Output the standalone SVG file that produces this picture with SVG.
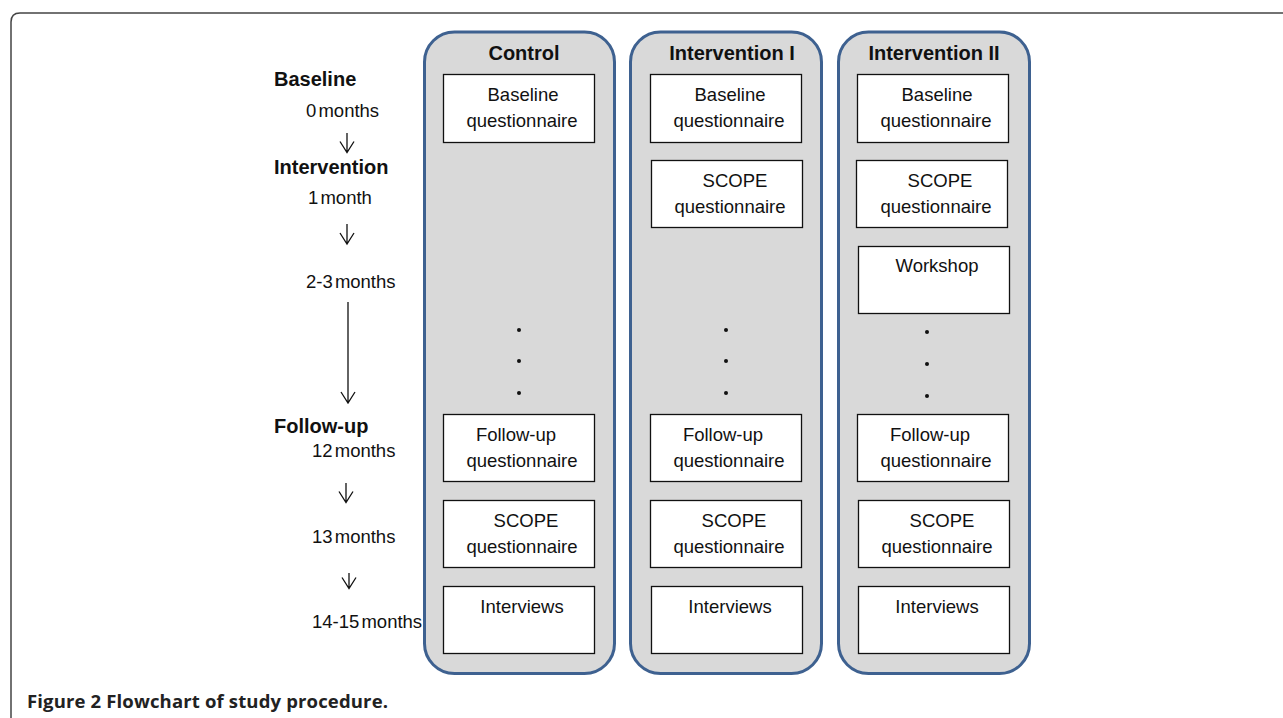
<svg xmlns="http://www.w3.org/2000/svg" width="1283" height="718" viewBox="0 0 1283 718">
<style>
.frame{fill:none;stroke:#444;stroke-width:1.5}
.col{fill:#d9d9d9;stroke:#3e6190;stroke-width:3}
.box{fill:#fff;stroke:#111;stroke-width:1.3}
.t{font-family:"Liberation Sans",Arial,sans-serif;font-size:18.5px;fill:#111;text-anchor:middle}
.h{font-family:"Liberation Sans",Arial,sans-serif;font-size:20px;font-weight:bold;fill:#111;text-anchor:middle}
.lb{font-family:"Liberation Sans",Arial,sans-serif;font-size:20px;font-weight:bold;fill:#111}
.lm{font-family:"Liberation Sans",Arial,sans-serif;font-size:18.5px;fill:#111;word-spacing:-3px}
.arr{fill:none;stroke:#111;stroke-width:1.3}
.dot{fill:#111}
.cap{font-family:"Open Sans","Noto Sans",sans-serif;font-size:18.5px;font-weight:bold;fill:#222}
</style>
<path class="frame" d="M11 718 V22 Q11 13 20 13 H1283"/>

<g id="col-control">
<rect class="col" x="424.5" y="32" width="190" height="641.5" rx="30"/>
<text class="h" x="524" y="60">Control</text>
</g>
<g id="col-int1">
<rect class="col" x="630.5" y="32" width="191" height="641.5" rx="30"/>
<text class="h" x="732" y="60">Intervention I</text>
</g>
<g id="col-int2">
<rect class="col" x="838.5" y="32" width="191" height="641.5" rx="30"/>
<text class="h" x="934" y="60">Intervention II</text>
</g>

<g id="c-baseline"><rect class="box" x="443.5" y="74.5" width="151" height="68"/><text class="t" x="523" y="101">Baseline</text><text class="t" x="522" y="127">questionnaire</text></g>
<g id="c-followup"><rect class="box" x="443.5" y="414.5" width="151" height="67"/><text class="t" x="516" y="441">Follow-up</text><text class="t" x="522" y="467">questionnaire</text></g>
<g id="c-scope"><rect class="box" x="443.5" y="500.5" width="151" height="67"/><text class="t" x="526" y="527">SCOPE</text><text class="t" x="522" y="553">questionnaire</text></g>
<g id="c-interviews"><rect class="box" x="443.5" y="586.5" width="151" height="67"/><text class="t" x="522" y="613">Interviews</text></g>

<g id="i1-baseline"><rect class="box" x="650.5" y="74.5" width="151" height="68"/><text class="t" x="730" y="101">Baseline</text><text class="t" x="729" y="127">questionnaire</text></g>
<g id="i1-scope1"><rect class="box" x="651.5" y="160.5" width="151" height="67"/><text class="t" x="735" y="187">SCOPE</text><text class="t" x="730" y="213">questionnaire</text></g>
<g id="i1-followup"><rect class="box" x="650.5" y="414.5" width="151" height="67"/><text class="t" x="723" y="441">Follow-up</text><text class="t" x="729" y="467">questionnaire</text></g>
<g id="i1-scope2"><rect class="box" x="650.5" y="500.5" width="151" height="67"/><text class="t" x="734" y="527">SCOPE</text><text class="t" x="729" y="553">questionnaire</text></g>
<g id="i1-interviews"><rect class="box" x="651.5" y="586.5" width="151" height="67"/><text class="t" x="730" y="613">Interviews</text></g>

<g id="i2-baseline"><rect class="box" x="857.5" y="74.5" width="151" height="68"/><text class="t" x="937" y="101">Baseline</text><text class="t" x="936" y="127">questionnaire</text></g>
<g id="i2-scope1"><rect class="box" x="856.5" y="160.5" width="151" height="67"/><text class="t" x="940" y="187">SCOPE</text><text class="t" x="936" y="213">questionnaire</text></g>
<g id="i2-workshop"><rect class="box" x="858.5" y="246.5" width="151" height="67"/><text class="t" x="937" y="272">Workshop</text></g>
<g id="i2-followup"><rect class="box" x="857.5" y="414.5" width="151" height="67"/><text class="t" x="930" y="441">Follow-up</text><text class="t" x="936" y="467">questionnaire</text></g>
<g id="i2-scope2"><rect class="box" x="858.5" y="500.5" width="151" height="67"/><text class="t" x="942" y="527">SCOPE</text><text class="t" x="937" y="553">questionnaire</text></g>
<g id="i2-interviews"><rect class="box" x="858.5" y="586.5" width="151" height="67"/><text class="t" x="937" y="613">Interviews</text></g>

<g id="dots">
<circle class="dot" cx="519" cy="330" r="2"/><circle class="dot" cx="519" cy="361" r="2"/><circle class="dot" cx="519" cy="393" r="2"/>
<circle class="dot" cx="726" cy="330" r="2"/><circle class="dot" cx="726" cy="361" r="2"/><circle class="dot" cx="726" cy="393" r="2"/>
<circle class="dot" cx="927" cy="332" r="2"/><circle class="dot" cx="927" cy="364" r="2"/><circle class="dot" cx="927" cy="396" r="2"/>
</g>

<g id="timeline-labels">
<text class="lb" x="274" y="86">Baseline</text>
<text class="lm" x="306" y="117">0 months</text>
<text class="lb" x="274" y="174">Intervention</text>
<text class="lm" x="308" y="204">1 month</text>
<text class="lm" x="306" y="288">2-3 months</text>
<text class="lb" x="274" y="433">Follow-up</text>
<text class="lm" x="312" y="457">12 months</text>
<text class="lm" x="312" y="543">13 months</text>
<text class="lm" x="312" y="628">14-15 months</text>
</g>

<g id="connectors">
<path class="arr" d="M347 133 V152.5 M340 141.5 L347 152.5 L354 141.5"/>
<path class="arr" d="M347 224 V244 M340 233 L347 244 L354 233"/>
<path class="arr" d="M348 302 V403 M341 392 L348 403 L355 392"/>
<path class="arr" d="M346 483 V502.5 M339 491.5 L346 502.5 L353 491.5"/>
<path class="arr" d="M349 573 V588.5 M342 577.5 L349 588.5 L356 577.5"/>
</g>

<text class="cap" x="27" y="708" textLength="361" lengthAdjust="spacing">Figure 2 Flowchart of study procedure.</text>
</svg>
